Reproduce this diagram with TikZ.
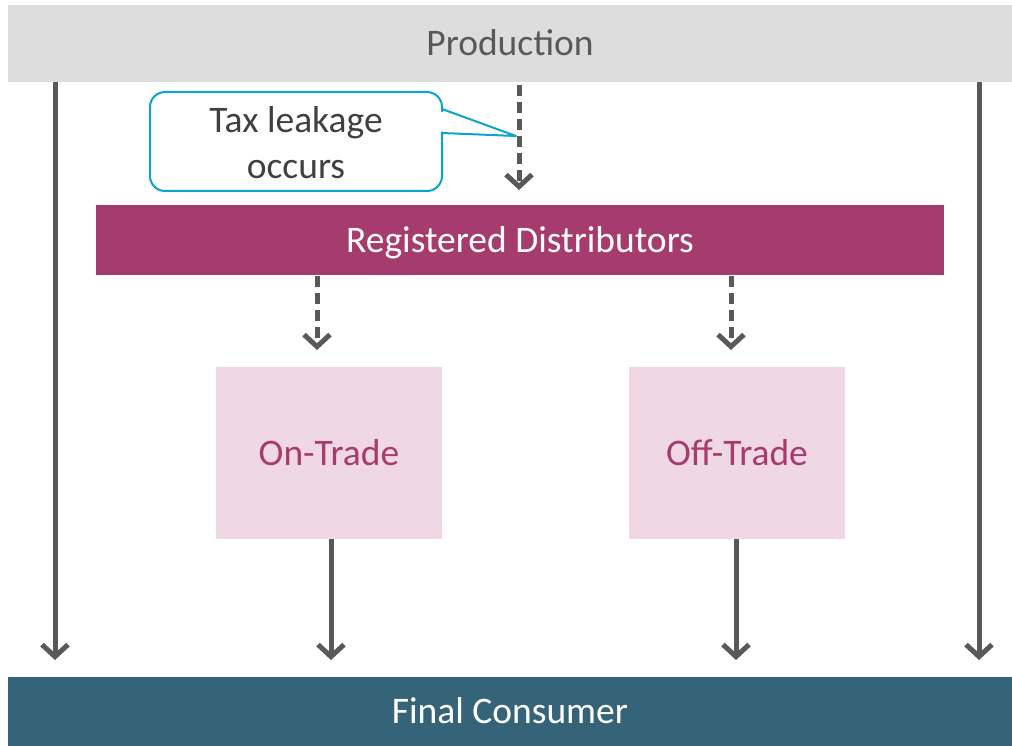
\documentclass[tikz,border=0pt]{standalone}
\usepackage{fontspec}
\setmainfont{Carlito}
\usetikzlibrary{arrows.meta,calc}
\definecolor{prodfill}{HTML}{DDDDDD}
\definecolor{darktext}{HTML}{595959}
\definecolor{distfill}{HTML}{A63B6E}
\definecolor{tradefill}{HTML}{F0D7E4}
\definecolor{consfill}{HTML}{356378}
\definecolor{arrowgray}{HTML}{595959}
\definecolor{calloutline}{HTML}{0AA5C9}
\definecolor{callouttext}{HTML}{404040}
\begin{document}
\begin{tikzpicture}[x=1pt,y=-1pt,
  box/.style={inner sep=0pt, outer sep=0pt, anchor=north west, text height=32pt, text depth=7.5pt, font=\fontsize{37.5}{44}\selectfont},
  arr/.style={draw=arrowgray, line width=5pt, -{Straight Barb[length=12pt 0, width=26pt 0, line width=5pt]}},
  dasharr/.style={arr, dash pattern=on 11pt off 6pt}
]
\useasboundingbox (0,0) rectangle (1012,746);
\fill[white] (0,0) rectangle (1012,746);

\node[box, fill=prodfill, text=darktext, minimum width=1004pt, minimum height=77pt] (prod) at (8,5) {Production};
\node[box, fill=distfill, text=white, minimum width=848pt, minimum height=70pt] (dist) at (96,205) {Registered Distributors};
\node[box, fill=tradefill, text=distfill, minimum width=226pt, minimum height=172pt] (ontrade) at (216,367) {On-Trade};
\node[box, fill=tradefill, text=distfill, minimum width=216pt, minimum height=172pt] (offtrade) at (629,367) {Off-Trade};
\node[box, fill=consfill, text=white, minimum width=1004pt, minimum height=69pt] (cons) at (8,677) {Final Consumer};

% callout
\draw[calloutline, line width=2pt, fill=white, rounded corners=15pt] (150,92) rectangle (442,191);
\fill[white] (439,111) -- (514,136) -- (439,131.5) -- cycle;
\draw[calloutline, line width=2pt, line join=round] (442,109) -- (516,136) -- (442,133);
\node[inner sep=0pt, align=center, text=callouttext, font=\fontsize{37.5}{46}\selectfont] (callout) at (296,143) {Tax leakage\\occurs};

% solid arrows
\draw[arr] ($(prod.south west)+(47,0)$) -- ($(cons.north west)+(47,-17)$);
\draw[arr] ($(prod.south east)+(-33,0)$) -- ($(cons.north east)+(-33,-17)$);
\draw[arr] ($(ontrade.south)+(2,0)$) -- ($(ontrade.south |- cons.north)+(2,-17)$);
\draw[arr] ($(offtrade.south)+(-1,0)$) -- ($(offtrade.south |- cons.north)+(-1,-17)$);

% dashed arrows
\draw[dasharr] ($(prod.south)+(9,3)$) -- ($(dist.north)+(-1,-15)$);
\draw[dasharr] ($(dist.south -| ontrade.north)+(-12,1)$) -- ($(ontrade.north)+(-12,-17)$);
\draw[dasharr] ($(dist.south -| offtrade.north)+(-6,1)$) -- ($(offtrade.north)+(-6,-17)$);
\end{tikzpicture}
\end{document}
